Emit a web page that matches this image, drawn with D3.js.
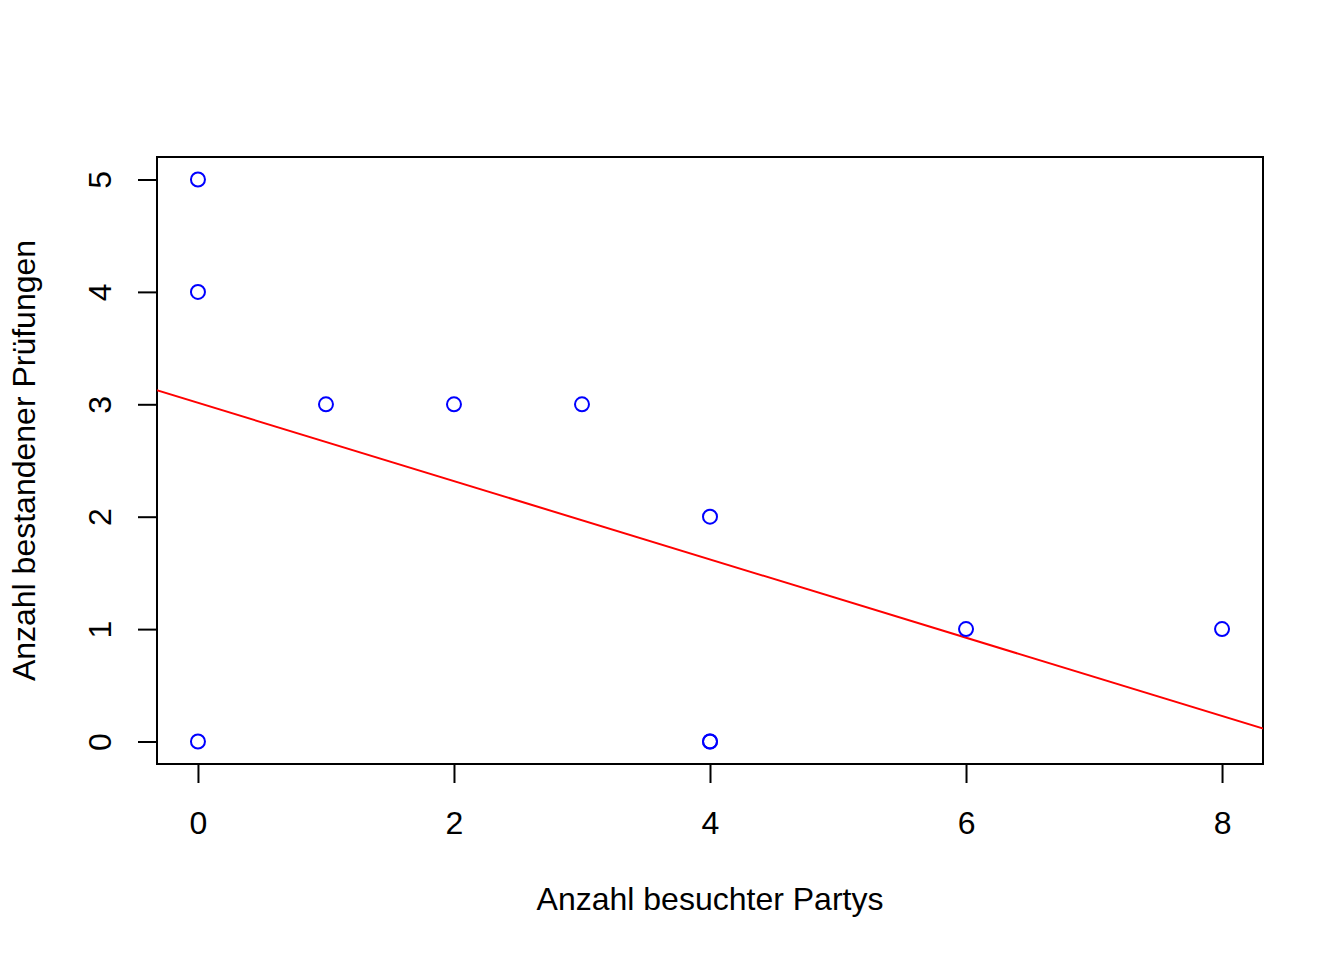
<!DOCTYPE html>
<html><head><meta charset="utf-8">
<script src="https://cdn.jsdelivr.net/npm/d3@7"></script>
<style>body{margin:0;background:#fff}svg{display:block}text{font-family:"Liberation Sans",Arial,sans-serif;fill:#000}</style>
</head><body>
<script>
const partys = [0, 0, 0, 1, 2, 3, 4, 4, 4, 6, 8];
const pruefungen = [5, 4, 0, 3, 3, 3, 2, 0, 0, 1, 1];
const xTicks = [0, 2, 4, 6, 8];
const yTicks = [0, 1, 2, 3, 4, 5];
const xLabel = "Anzahl besuchter Partys";
const yLabel = "Anzahl bestandener Prüfungen";

const W = 1344, H = 960;
const L = 157, R = 1263, T = 157, B = 764;
const FS = 32;
const svg = d3.select("body").append("svg").attr("width", W).attr("height", H);

const x = d3.scaleLinear().domain([-0.32, 8.32]).range([L, R]);
const y = d3.scaleLinear().domain([-0.2, 5.2]).range([B, T]);

// least-squares regression (abline(lm(...)))
const n = partys.length;
const mx = d3.mean(partys), my = d3.mean(pruefungen);
let sxy = 0, sxx = 0;
for (let i = 0; i < n; i++) { sxy += (partys[i]-mx)*(pruefungen[i]-my); sxx += (partys[i]-mx)**2; }
const b = sxy / sxx, a = my - b * mx;

svg.append("defs").append("clipPath").attr("id", "clip")
  .append("rect").attr("x", L).attr("y", T).attr("width", R - L).attr("height", B - T);

const xa = svg.append("g").attr("transform", `translate(0,${B})`)
  .call(d3.axisBottom(x).tickValues(xTicks).tickSize(19).tickFormat(d3.format("d")));
xa.select(".domain").attr("d", `M${x(0)},0H${x(8)}`).attr("stroke-width", 2);
xa.selectAll(".tick line").attr("stroke-width", 2);
xa.selectAll(".tick text").attr("font-size", FS).attr("y", 59).attr("dy", null)
  .attr("dominant-baseline", "central")
  .style("font-family", '"Liberation Sans",Arial,sans-serif');

const ya = svg.append("g").attr("transform", `translate(${L},0)`)
  .call(d3.axisLeft(y).tickValues(yTicks).tickSize(19).tickFormat(d3.format("d")));
ya.select(".domain").attr("d", `M0,${y(0)}V${y(5)}`).attr("stroke-width", 2);
ya.selectAll(".tick line").attr("stroke-width", 2);
ya.selectAll(".tick text").attr("font-size", FS).attr("x", 0).attr("dy", null)
  .attr("text-anchor", "middle")
  .attr("transform", "translate(-57,0) rotate(-90)")
  .attr("dominant-baseline", "central")
  .style("font-family", '"Liberation Sans",Arial,sans-serif');

svg.append("rect").attr("x", L).attr("y", T).attr("width", R - L).attr("height", B - T)
  .attr("fill", "none").attr("stroke", "#000").attr("stroke-width", 2);

svg.append("line").attr("clip-path", "url(#clip)")
  .attr("x1", x(-1)).attr("y1", y(a + b * -1)).attr("x2", x(9)).attr("y2", y(a + b * 9))
  .attr("stroke", "#ff0000").attr("stroke-width", 2);

svg.append("g").selectAll("circle").data(partys).join("circle")
  .attr("cx", d => x(d)).attr("cy", (d, i) => y(pruefungen[i])).attr("r", 7)
  .attr("fill", "none").attr("stroke", "#0000ff").attr("stroke-width", 2);

svg.append("text").attr("x", (L + R) / 2).attr("y", 899).attr("text-anchor", "middle")
  .attr("dominant-baseline", "central").attr("font-size", FS).text(xLabel);
svg.append("text").attr("transform", `translate(24,${(T + B) / 2}) rotate(-90)`).attr("text-anchor", "middle")
  .attr("dominant-baseline", "central").attr("font-size", FS).text(yLabel);
</script>
</body></html>
